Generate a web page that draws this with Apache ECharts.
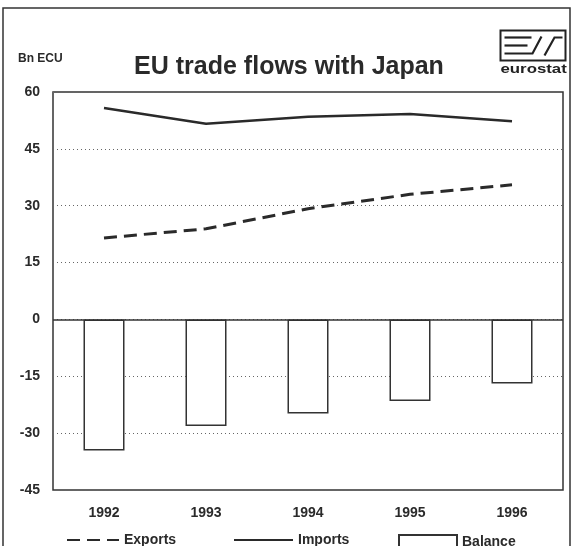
<!DOCTYPE html>
<html><head><meta charset="utf-8">
<script src="https://cdn.jsdelivr.net/npm/echarts@6/dist/echarts.min.js"></script>
<style>html,body{margin:0;padding:0;background:#fff;overflow:hidden}#c{width:573px;height:546px}</style>
</head><body><div id="c"></div>
<script>
const years = ['1992', '1993', '1994', '1995', '1996'];
const exportsData = [21.5, 23.9, 29.2, 33.0, 35.5];
const importsData = [55.8, 51.6, 53.5, 54.2, 52.3];
const balanceData = [-34.6, -28.1, -24.8, -21.5, -16.9];
const yMin = -45, yMax = 60, yStep = 15;

const FONT = '"Liberation Sans", Arial, sans-serif';
const INK = '#2a2a2a';
const chart = echarts.init(document.getElementById('c'), null, {renderer: 'canvas'});
const legendText = {fontFamily: FONT, fontSize: 14, fontWeight: 'bold', color: INK};

chart.setOption({
  animation: false,
  backgroundColor: '#fff',
  textStyle: {fontFamily: FONT, color: INK},
  title: {
    text: 'EU trade flows with Japan',
    left: 284, top: 50, textAlign: 'center',
    textStyle: {fontFamily: FONT, fontSize: 25, fontWeight: 'bold', color: INK}
  },
  grid: {
    left: 53, right: 10, top: 92, bottom: 56,
    show: true, borderColor: '#333', borderWidth: 1.5, backgroundColor: 'transparent'
  },
  xAxis: {
    type: 'category', data: years,
    axisLine: {show: false, onZero: false},
    axisTick: {show: false},
    axisLabel: {margin: 16, fontFamily: FONT, fontSize: 14, fontWeight: 'bold', color: INK},
    splitLine: {show: false}
  },
  yAxis: {
    type: 'value', min: yMin, max: yMax, interval: yStep,
    name: 'Bn ECU', nameLocation: 'end', nameGap: 27,
    nameTextStyle: {fontFamily: FONT, fontSize: 12, fontWeight: 'bold', color: INK, align: 'left', padding: [0, 0, 0, -35]},
    axisLine: {show: false}, axisTick: {show: false},
    axisLabel: {margin: 13, fontFamily: FONT, fontSize: 14, fontWeight: 'bold', color: INK},
    splitLine: {show: true, lineStyle: {color: '#666', width: 1, type: [1, 3]}}
  },
  legend: [
    {data: ['Exports'], left: 66, top: 533, itemWidth: 52, itemHeight: 14, itemGap: 10,
     itemStyle: {opacity: 0}, textStyle: legendText, padding: 0},
    {data: ['Imports'], left: 233, top: 533, itemWidth: 59, itemHeight: 14, itemGap: 3,
     itemStyle: {opacity: 0}, textStyle: legendText, padding: 0},
    {data: [{name: 'Balance', icon: 'rect'}], left: 398, top: 534, itemWidth: 58, itemHeight: 14, itemGap: 3,
     textStyle: legendText, padding: 0}
  ],
  series: [
    {
      name: 'Balance', type: 'bar', data: balanceData, barWidth: 41, z: 2,
      itemStyle: {color: '#fff', borderColor: '#333', borderWidth: 1.5},
      markLine: {
        silent: true, symbol: 'none', label: {show: false},
        lineStyle: {color: '#333', width: 1.5, type: 'solid'},
        data: [{yAxis: 0}]
      }
    },
    {
      name: 'Imports', type: 'line', data: importsData, z: 3,
      symbol: 'none', showSymbol: false,
      lineStyle: {color: INK, width: 2.5, type: 'solid'},
      itemStyle: {color: INK}
    },
    {
      name: 'Exports', type: 'line', data: exportsData, z: 3,
      symbol: 'none', showSymbol: false,
      lineStyle: {color: INK, width: 3, type: [13, 7]},
      itemStyle: {color: INK}
    }
  ],
  graphic: [
    {type: 'rect', shape: {x: 3, y: 8, width: 567, height: 600}, silent: true,
     style: {fill: 'none', stroke: '#333', lineWidth: 1.5}},
    {type: 'group', left: 498, top: 28, silent: true, children: [
      {type: 'rect', shape: {x: 0, y: 0, width: 65, height: 30}, style: {fill: 'none', stroke: '#222', lineWidth: 2}},
      {type: 'polyline', shape: {points: [[4, 7], [31, 7]]}, style: {stroke: '#222', lineWidth: 2.2, fill: 'none'}},
      {type: 'polyline', shape: {points: [[4, 15], [27, 15]]}, style: {stroke: '#222', lineWidth: 2.2, fill: 'none'}},
      {type: 'polyline', shape: {points: [[4, 23], [32, 23], [41, 6]]}, style: {stroke: '#222', lineWidth: 2.2, fill: 'none'}},
      {type: 'polyline', shape: {points: [[44, 25], [54, 7], [62, 7]]}, style: {stroke: '#222', lineWidth: 2.2, fill: 'none'}},
      {type: 'text', x: 0, y: 33, scaleX: 1.4, style: {text: 'eurostat', font: 'bold 12px ' + FONT, fill: '#222'}}
    ]}
  ]
});
</script>
</body></html>
